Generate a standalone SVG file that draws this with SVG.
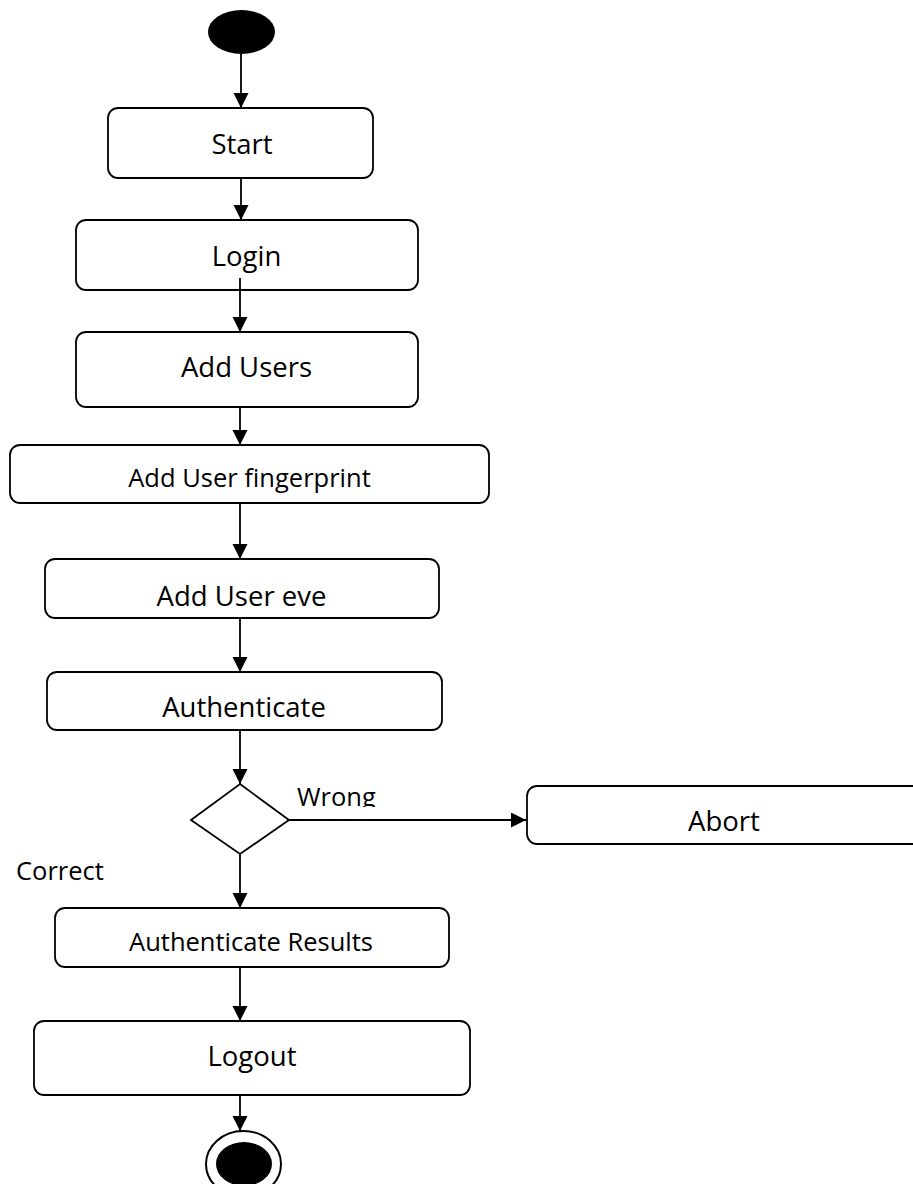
<svg xmlns="http://www.w3.org/2000/svg" width="913" height="1184" viewBox="0 0 913 1184">
  <style>
    .box { fill: #ffffff; stroke: #000000; stroke-width: 1.8; }
    .lbl { font-family: "Open Sans", "Liberation Sans", sans-serif; font-size: 27.5px; fill: #000000; text-anchor: middle; }
    .sm { font-size: 25.5px; }
    .edge { stroke: #000000; stroke-width: 1.8; fill: none; marker-end: url(#arrow); }
  </style>
  <defs>
    <marker id="arrow" markerUnits="userSpaceOnUse" markerWidth="16" markerHeight="16" refX="15" refY="7.5" orient="auto">
      <path d="M0,0 L15,7.5 L0,15 z" fill="#000000"/>
    </marker>
    <clipPath id="wrongClip">
      <rect x="280" y="770" width="120" height="37"/>
    </clipPath>
  </defs>
  <rect x="0" y="0" width="913" height="1184" fill="#ffffff"/>

  <g id="connectors">
    <line class="edge" x1="241" y1="54" x2="241" y2="108"/>
    <line class="edge" x1="241" y1="178" x2="241" y2="220"/>
    <line class="edge" x1="240" y1="278" x2="240" y2="332"/>
    <line class="edge" x1="240" y1="407" x2="240" y2="445"/>
    <line class="edge" x1="240" y1="503" x2="240" y2="559"/>
    <line class="edge" x1="240" y1="618" x2="240" y2="672"/>
    <line class="edge" x1="240" y1="730" x2="240" y2="784"/>
    <line class="edge" x1="289" y1="820" x2="526" y2="820"/>
    <line class="edge" x1="240" y1="854" x2="240" y2="908"/>
    <line class="edge" x1="240" y1="967" x2="240" y2="1021"/>
    <line class="edge" x1="240" y1="1095" x2="240" y2="1131"/>
  </g>

  <g id="initial">
    <ellipse cx="241.5" cy="32" rx="33.5" ry="22" fill="#000000"/>
  </g>

  <g id="start">
    <rect class="box" x="108" y="108" width="265" height="70" rx="10"/>
    <text class="lbl" x="242" y="154">Start</text>
  </g>

  <g id="login">
    <rect class="box" x="76" y="220" width="342" height="70" rx="10"/>
    <text class="lbl" x="246.5" y="266">Login</text>
  </g>
  <line x1="240" y1="278" x2="240" y2="290" stroke="#000" stroke-width="1.8"/>

  <g id="add-users">
    <rect class="box" x="76" y="332" width="342" height="75" rx="10"/>
    <text class="lbl" x="246.5" y="377">Add Users</text>
  </g>

  <g id="add-fingerprint">
    <rect class="box" x="10" y="445" width="479" height="58" rx="10"/>
    <text class="lbl sm" x="249.5" y="487">Add User fingerprint</text>
  </g>

  <g id="add-eve">
    <rect class="box" x="45" y="559" width="394" height="59" rx="10"/>
    <text class="lbl" x="241.5" y="606">Add User eve</text>
  </g>

  <g id="authenticate">
    <rect class="box" x="47" y="672" width="395" height="58" rx="10"/>
    <text class="lbl" x="244" y="717">Authenticate</text>
  </g>

  <g id="decision">
    <polygon class="box" points="240,784 289,820 240,854 191,820"/>
    <text class="lbl sm" x="297" y="806" style="text-anchor:start" clip-path="url(#wrongClip)">Wrong</text>
    <text class="lbl sm" x="16" y="880" style="text-anchor:start">Correct</text>
  </g>

  <g id="abort">
    <rect class="box" x="527" y="786" width="420" height="58" rx="10"/>
    <text class="lbl" x="724" y="831">Abort</text>
  </g>

  <g id="auth-results">
    <rect class="box" x="55" y="908" width="394" height="59" rx="10"/>
    <text class="lbl sm" x="251" y="951">Authenticate Results</text>
  </g>

  <g id="logout">
    <rect class="box" x="34" y="1021" width="436" height="74" rx="10"/>
    <text class="lbl" x="252" y="1066">Logout</text>
  </g>

  <g id="final">
    <ellipse cx="243.5" cy="1164" rx="37.5" ry="33" fill="#ffffff" stroke="#000000" stroke-width="2"/>
    <ellipse cx="244" cy="1164" rx="28" ry="22" fill="#000000"/>
  </g>
</svg>
